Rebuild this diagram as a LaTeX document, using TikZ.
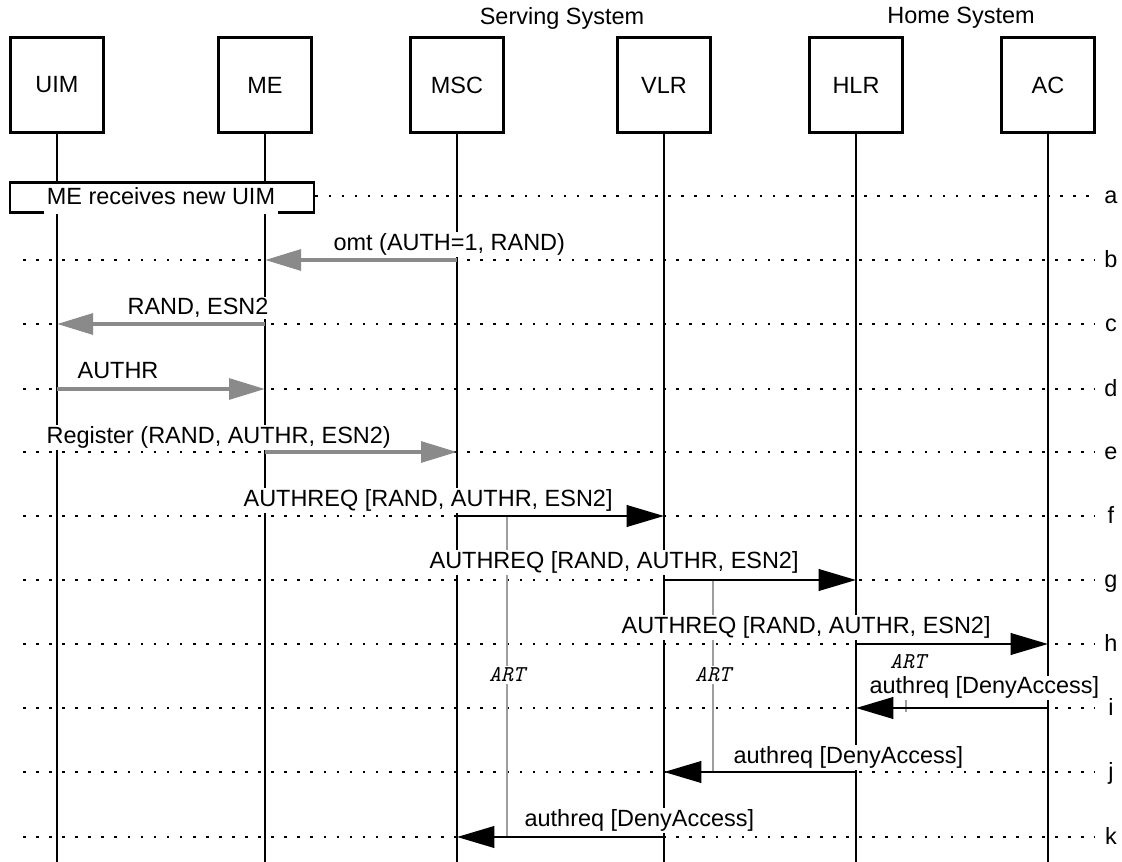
\documentclass[tikz,border=0pt]{standalone}
\usepackage{fontspec}
\setmainfont{Liberation Sans}
\usetikzlibrary{arrows.meta,calc}
\definecolor{MsgGray}{HTML}{8A8A8A}
\definecolor{TimerGray}{HTML}{9E9E9E}
\newcommand\msgfont{\fontsize{17.6}{20}\selectfont}

\tikzset{
  entity/.style={draw,line width=2.2pt,minimum width=70pt,minimum height=71pt,inner sep=0pt,font=\msgfont},
  lifeline/.style={line width=2.2pt},
  rowline/.style={line width=1.6pt,dash pattern=on 2pt off 7.8pt},
  rowtag/.style={font=\msgfont,anchor=base,inner sep=0pt},
  localmsg/.style={MsgGray,line width=3pt,-{Triangle[length=27pt,width=15.5pt]}},
  netmsg/.style={line width=2.2pt,-{Triangle[length=28pt,width=16pt]}},
  timer/.style={TimerGray,line width=2.2pt},
  msglabel/.style={fill=white,inner sep=1pt,font=\msgfont,anchor=base west},
  timerlabel/.style={fill=white,inner sep=1pt,font=\ttfamily\itshape\fontsize{17}{19}\selectfont},
}

\begin{document}
\begin{tikzpicture}[x=0.75pt,y=-0.75pt,line cap=butt,line join=miter]

% 1 unit = 1 px of the 1122 x 862 sheet, y grows downwards
\useasboundingbox (0,0) rectangle (1122,862);
\coordinate (bottom) at (0,862);

% ---- SYSTEMS ----
\node[font=\msgfont] (serving) at (562,18) {Serving System};
\node[font=\msgfont] (home) at (961,18) {Home System};

% ---- ENTITIES ----
\node[entity] (uim) at (57,85)   {UIM};
\node[entity] (me)  at (265,85)  {ME};
\node[entity] (msc) at (457,85)  {MSC};
\node[entity] (vlr) at (664,85)  {VLR};
\node[entity] (hlr) at (856,85)  {HLR};
\node[entity] (ac)  at (1048,85) {AC};

% ---- ROWS ----
\coordinate (rowa) at (0,196);
\node[rowtag] (taga) at (1111,204) {a};
\foreach \r/\y in {b/260,c/324,d/389,e/452,f/516,g/580,h/644,i/708,j/772,k/837} {
  \coordinate (row\r) at (0,\y);
  \draw[rowline] (23,\y) -- (1095,\y);
  \node[rowtag] (tag\r) at (1111,\y+8) {\r};
}

% Lifelines
\foreach \e in {uim,me,msc,vlr,hlr,ac}
  \draw[lifeline] (\e.south) -- (\e.south |- bottom);

% ME receives new UIM (text background cuts the lower edge)
\node[draw,line width=2.2pt,fill=white,minimum width=228pt,minimum height=23pt,inner sep=0pt] (newuim) at (162,197.5) {};
\node[fill=white,inner sep=2pt,text depth=5.5pt,font=\msgfont,anchor=base] (newuimtxt) at (161,204.5) {ME receives new UIM};
\draw[rowline] (newuim.east |- rowa) -- (1095,196);

% ---- ART TIMERS ----
\draw[timer] ($(msc |- rowf)+(50,0)$) -- ($(msc |- rowk)+(50,0)$);
\draw[timer] ($(vlr |- rowg)+(49,0)$) -- ($(vlr |- rowj)+(49,0)$);
\draw[timer] ($(hlr |- rowi)+(50,-8)$) -- ($(hlr |- rowi)+(50,4)$);
\node[timerlabel] (artmsc) at (507,675) {ART};
\node[timerlabel] (artvlr) at (713,675) {ART};
\node[timerlabel] (arthlr) at (908,662) {ART};

% ---- MESSAGE LABELS ----
\node[msglabel] (lblb) at (332,250.5) {omt (AUTH=1, RAND)};
\node[msglabel] (lblc) at (126,314.5) {RAND, ESN2};
\node[msglabel] (lbld) at (76,378.5)  {AUTHR};
\node[msglabel] (lble) at (45,443.5)  {Register (RAND, AUTHR, ESN2)};
\node[msglabel] (lblf) at (242,506.5) {AUTHREQ [RAND, AUTHR, ESN2]};
\node[msglabel] (lblg) at (428,568.5) {AUTHREQ [RAND, AUTHR, ESN2]};
\node[msglabel] (lblh) at (620,633.5) {AUTHREQ [RAND, AUTHR, ESN2]};
\node[msglabel] (lbli) at (868,694)   {authreq [DenyAccess]};
\node[msglabel] (lblj) at (732,763.5) {authreq [DenyAccess]};
\node[msglabel] (lblk) at (523,826.5) {authreq [DenyAccess]};

% ---- MESSAGES ----
\draw[localmsg] (msc |- rowb) -- (me |- rowb);
\draw[localmsg] (me |- rowc) -- (uim |- rowc);
\draw[localmsg] (uim |- rowd) -- (me |- rowd);
\draw[localmsg] (me |- rowe) -- (msc |- rowe);
\draw[netmsg] (msc |- rowf) -- (vlr |- rowf);
\draw[netmsg] (vlr |- rowg) -- (hlr |- rowg);
\draw[netmsg] (hlr |- rowh) -- (ac |- rowh);
\draw[netmsg] (ac |- rowi) -- (hlr |- rowi);
\draw[netmsg] (hlr |- rowj) -- (vlr |- rowj);
\draw[netmsg] (vlr |- rowk) -- (msc |- rowk);

\end{tikzpicture}
\end{document}
